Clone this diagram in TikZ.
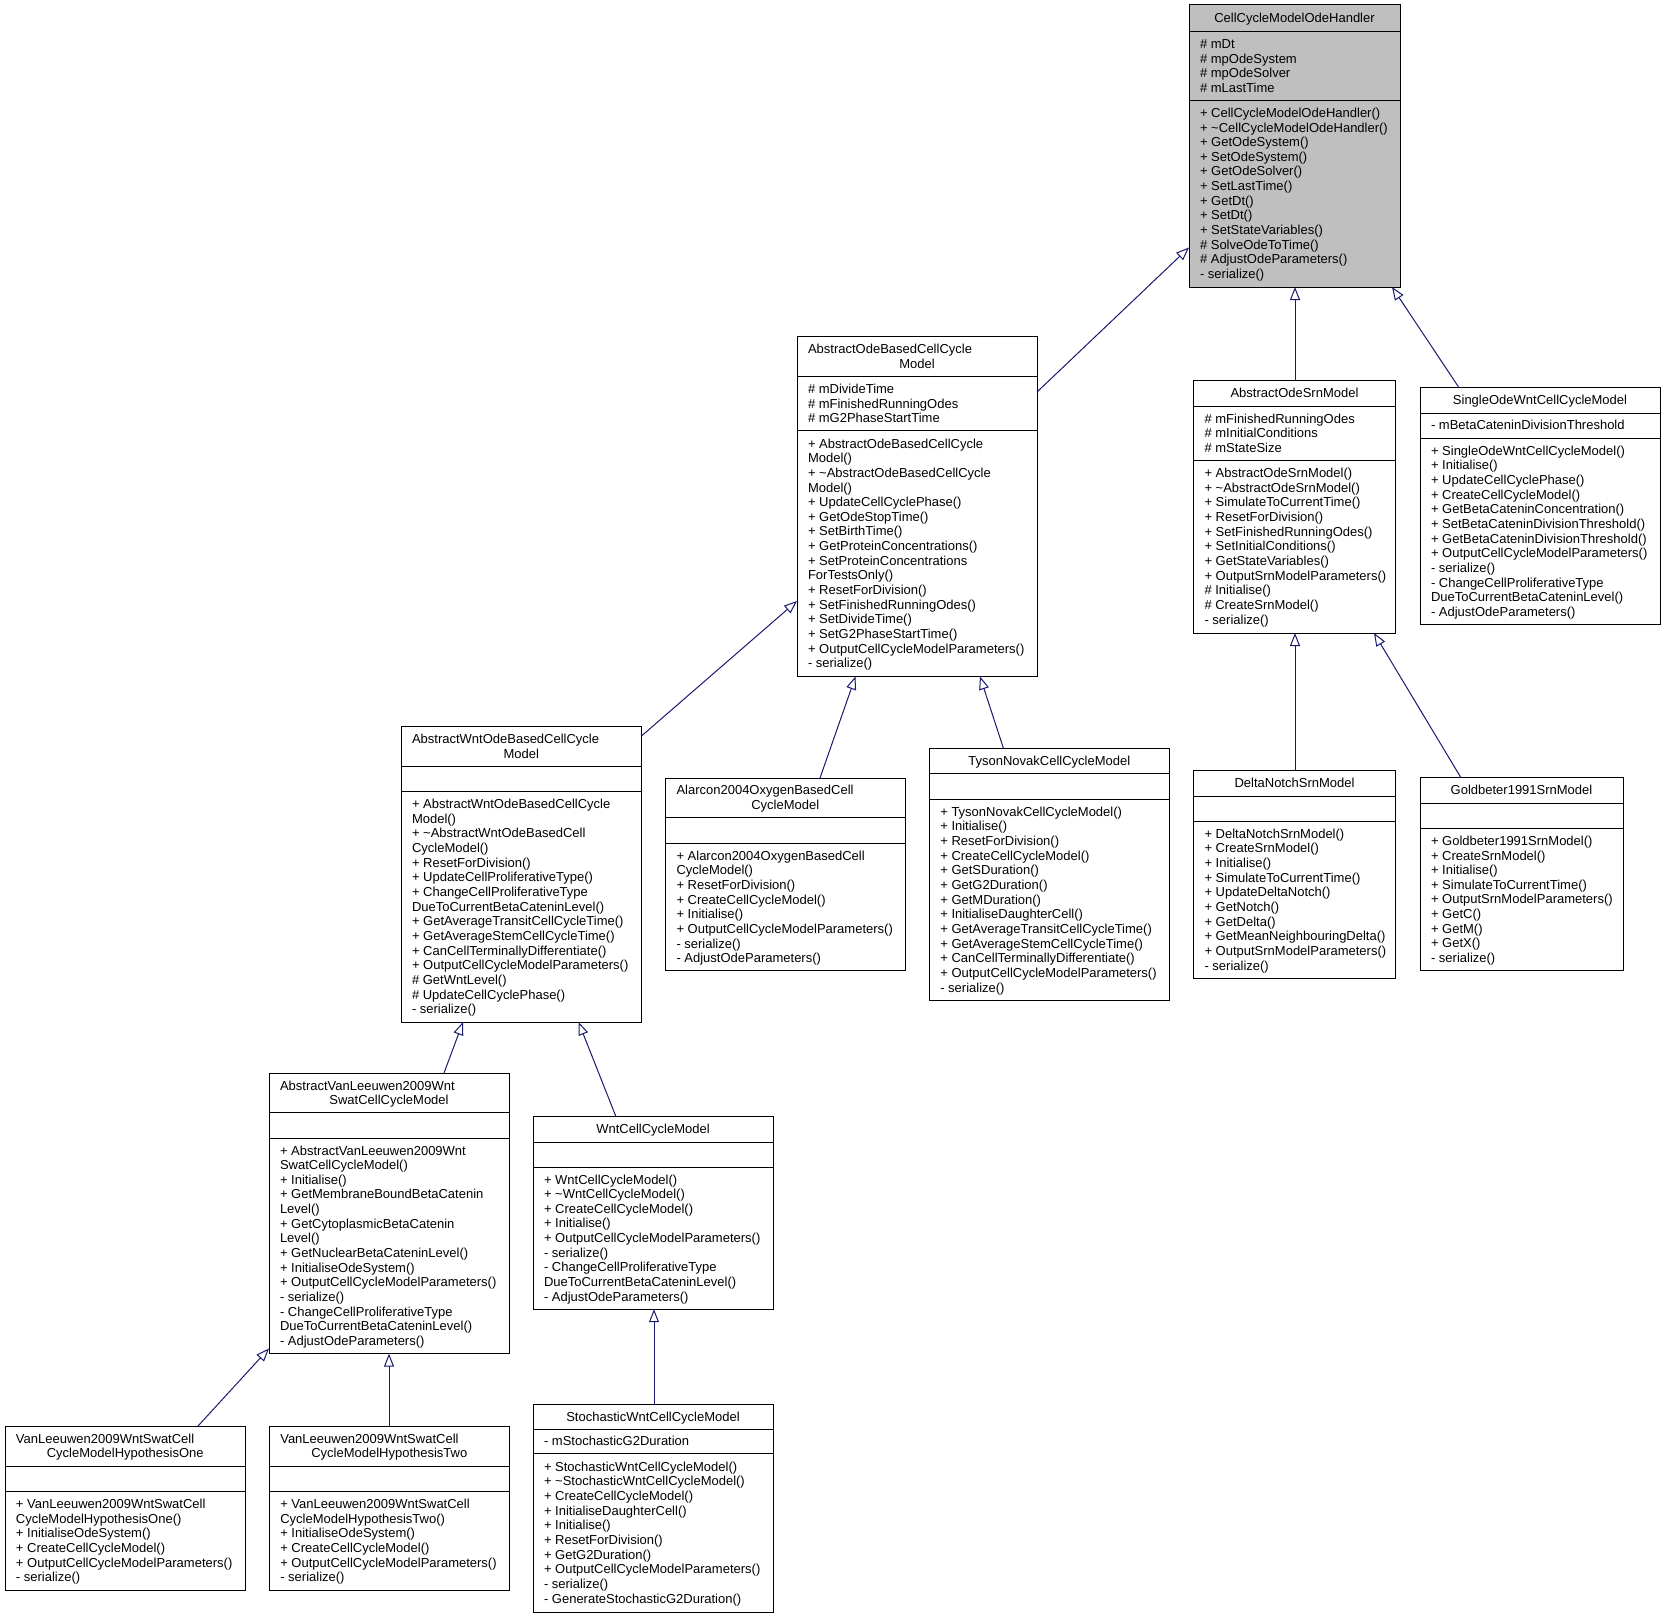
\documentclass[tikz,border=0pt]{standalone}
\usepackage{fontspec}
\setmainfont{Liberation Sans}
\usetikzlibrary{arrows.meta}
\definecolor{edgeblue}{HTML}{191970}
\definecolor{greyfill}{HTML}{BFBFBF}
\newcommand\linesL[1]{\begin{tabular}{@{}l@{}}#1\end{tabular}}
\newcommand\linesC[1]{\begin{tabular}{@{}c@{}}#1\end{tabular}}
\tikzset{
  cls/.style={draw=black, line width=1pt, inner sep=0pt, outer sep=0pt},
  sepline/.style={draw=black, line width=1pt},
  txt/.style={inner sep=0pt, outer sep=0pt, font=\fontsize{13pt}{14.65pt}\selectfont, yshift=-1.5pt},
  inh/.style={draw=edgeblue, line width=1pt, -{Triangle[open, length=13pt, width=10pt]}}
}
% #1 fill, #2 name, #3 left, #4 right, #5 top, #6 sep1, #7 sep2, #8 bottom
\newcommand\cbox[8][white]{%
  \node[cls, fill=#1, anchor=north west, minimum width={(#4)-(#3)}, minimum height={(#8)-(#5)}] (#2) at (#3,#5) {};
  \draw[sepline] (#2.west |- 0,#6) -- (#2.east |- 0,#6);
  \draw[sepline] (#2.west |- 0,#7) -- (#2.east |- 0,#7);
  \coordinate (#2-t) at ({(#3+#4)/2},{(#5+#6)/2});
  \coordinate (#2-t1) at ({#3+11},{(#5+#6)/2-7.325});
  \coordinate (#2-t2) at ({(#3+#4)/2},{(#5+#6)/2+7.325});
  \coordinate (#2-a) at ({#3+11},{(#6+#7)/2});
  \coordinate (#2-m) at ({#3+11},{(#7+#8)/2});
}
\begin{document}
\begin{tikzpicture}[x=1pt, y=-1pt]
\path[use as bounding box, fill=white] (0,0) rectangle (1665,1619);

% CellCycleModelOdeHandler
\cbox[greyfill]{CCH}{1189}{1400}{5}{32}{100}{287}
\node[txt] (CCH-title) at (CCH-t) {\linesC{CellCycleModelOdeHandler}};
\node[txt, anchor=west] (CCH-attr) at (CCH-a) {\linesL{\# mDt\\ \# mpOdeSystem\\ \# mpOdeSolver\\ \# mLastTime}};
\node[txt, anchor=west] (CCH-meth) at (CCH-m) {\linesL{+ CellCycleModelOdeHandler()\\ + \textasciitilde CellCycleModelOdeHandler()\\ + GetOdeSystem()\\ + SetOdeSystem()\\ + GetOdeSolver()\\ + SetLastTime()\\ + GetDt()\\ + SetDt()\\ + SetStateVariables()\\ \# SolveOdeToTime()\\ \# AdjustOdeParameters()\\ - serialize()}};

% AbstractOdeBasedCellCycleModel
\cbox{ABO}{797}{1037}{336.7}{376.7}{430.5}{676.5}
\node[txt, anchor=west] (ABO-title1) at (ABO-t1) {\linesL{AbstractOdeBasedCellCycle}};
\node[txt] (ABO-title2) at (ABO-t2) {\linesC{Model}};
\node[txt, anchor=west] (ABO-attr) at (ABO-a) {\linesL{\# mDivideTime\\ \# mFinishedRunningOdes\\ \# mG2PhaseStartTime}};
\node[txt, anchor=west] (ABO-meth) at (ABO-m) {\linesL{+ AbstractOdeBasedCellCycle\\ Model()\\ + \textasciitilde AbstractOdeBasedCellCycle\\ Model()\\ + UpdateCellCyclePhase()\\ + GetOdeStopTime()\\ + SetBirthTime()\\ + GetProteinConcentrations()\\ + SetProteinConcentrations\\ ForTestsOnly()\\ + ResetForDivision()\\ + SetFinishedRunningOdes()\\ + SetDivideTime()\\ + SetG2PhaseStartTime()\\ + OutputCellCycleModelParameters()\\ - serialize()}};

% AbstractOdeSrnModel
\cbox{AOS}{1193.5}{1395.5}{380}{406.5}{460}{633}
\node[txt] (AOS-title) at (AOS-t) {\linesC{AbstractOdeSrnModel}};
\node[txt, anchor=west] (AOS-attr) at (AOS-a) {\linesL{\# mFinishedRunningOdes\\ \# mInitialConditions\\ \# mStateSize}};
\node[txt, anchor=west] (AOS-meth) at (AOS-m) {\linesL{+ AbstractOdeSrnModel()\\ + \textasciitilde AbstractOdeSrnModel()\\ + SimulateToCurrentTime()\\ + ResetForDivision()\\ + SetFinishedRunningOdes()\\ + SetInitialConditions()\\ + GetStateVariables()\\ + OutputSrnModelParameters()\\ \# Initialise()\\ \# CreateSrnModel()\\ - serialize()}};

% SingleOdeWntCellCycleModel
\cbox{SOW}{1420}{1660}{387.7}{413}{438}{624.6}
\node[txt] (SOW-title) at (SOW-t) {\linesC{SingleOdeWntCellCycleModel}};
\node[txt, anchor=west] (SOW-attr) at (SOW-a) {\linesL{- mBetaCateninDivisionThreshold}};
\node[txt, anchor=west] (SOW-meth) at (SOW-m) {\linesL{+ SingleOdeWntCellCycleModel()\\ + Initialise()\\ + UpdateCellCyclePhase()\\ + CreateCellCycleModel()\\ + GetBetaCateninConcentration()\\ + SetBetaCateninDivisionThreshold()\\ + GetBetaCateninDivisionThreshold()\\ + OutputCellCycleModelParameters()\\ - serialize()\\ - ChangeCellProliferativeType\\ DueToCurrentBetaCateninLevel()\\ - AdjustOdeParameters()}};

% AbstractWntOdeBasedCellCycleModel
\cbox{AWO}{401}{641.5}{726.7}{766.7}{791.5}{1022}
\node[txt, anchor=west] (AWO-title1) at (AWO-t1) {\linesL{AbstractWntOdeBasedCellCycle}};
\node[txt] (AWO-title2) at (AWO-t2) {\linesC{Model}};
\node[txt, anchor=west] (AWO-meth) at (AWO-m) {\linesL{+ AbstractWntOdeBasedCellCycle\\ Model()\\ + \textasciitilde AbstractWntOdeBasedCell\\ CycleModel()\\ + ResetForDivision()\\ + UpdateCellProliferativeType()\\ + ChangeCellProliferativeType\\ DueToCurrentBetaCateninLevel()\\ + GetAverageTransitCellCycleTime()\\ + GetAverageStemCellCycleTime()\\ + CanCellTerminallyDifferentiate()\\ + OutputCellCycleModelParameters()\\ \# GetWntLevel()\\ \# UpdateCellCyclePhase()\\ - serialize()}};

% Alarcon2004OxygenBasedCellCycleModel
\cbox{ALA}{665.5}{905}{778}{817.7}{843.2}{970.7}
\node[txt, anchor=west] (ALA-title1) at (ALA-t1) {\linesL{Alarcon2004OxygenBasedCell}};
\node[txt] (ALA-title2) at (ALA-t2) {\linesC{CycleModel}};
\node[txt, anchor=west] (ALA-meth) at (ALA-m) {\linesL{+ Alarcon2004OxygenBasedCell\\ CycleModel()\\ + ResetForDivision()\\ + CreateCellCycleModel()\\ + Initialise()\\ + OutputCellCycleModelParameters()\\ - serialize()\\ - AdjustOdeParameters()}};

% TysonNovakCellCycleModel
\cbox{TNK}{929.3}{1169.3}{748.5}{773.8}{799.5}{1000}
\node[txt] (TNK-title) at (TNK-t) {\linesC{TysonNovakCellCycleModel}};
\node[txt, anchor=west] (TNK-meth) at (TNK-m) {\linesL{+ TysonNovakCellCycleModel()\\ + Initialise()\\ + ResetForDivision()\\ + CreateCellCycleModel()\\ + GetSDuration()\\ + GetG2Duration()\\ + GetMDuration()\\ + InitialiseDaughterCell()\\ + GetAverageTransitCellCycleTime()\\ + GetAverageStemCellCycleTime()\\ + CanCellTerminallyDifferentiate()\\ + OutputCellCycleModelParameters()\\ - serialize()}};

% DeltaNotchSrnModel
\cbox{DNS}{1193.5}{1395.5}{770}{796}{821.2}{978.2}
\node[txt] (DNS-title) at (DNS-t) {\linesC{DeltaNotchSrnModel}};
\node[txt, anchor=west] (DNS-meth) at (DNS-m) {\linesL{+ DeltaNotchSrnModel()\\ + CreateSrnModel()\\ + Initialise()\\ + SimulateToCurrentTime()\\ + UpdateDeltaNotch()\\ + GetNotch()\\ + GetDelta()\\ + GetMeanNeighbouringDelta()\\ + OutputSrnModelParameters()\\ - serialize()}};

% Goldbeter1991SrnModel
\cbox{GBS}{1420}{1623}{777.8}{803}{828.3}{970.8}
\node[txt] (GBS-title) at (GBS-t) {\linesC{Goldbeter1991SrnModel}};
\node[txt, anchor=west] (GBS-meth) at (GBS-m) {\linesL{+ Goldbeter1991SrnModel()\\ + CreateSrnModel()\\ + Initialise()\\ + SimulateToCurrentTime()\\ + OutputSrnModelParameters()\\ + GetC()\\ + GetM()\\ + GetX()\\ - serialize()}};

% AbstractVanLeeuwen2009WntSwatCellCycleModel
\cbox{AVL}{269}{509}{1073}{1112.8}{1138}{1353.6}
\node[txt, anchor=west] (AVL-title1) at (AVL-t1) {\linesL{AbstractVanLeeuwen2009Wnt}};
\node[txt] (AVL-title2) at (AVL-t2) {\linesC{SwatCellCycleModel}};
\node[txt, anchor=west] (AVL-meth) at (AVL-m) {\linesL{+ AbstractVanLeeuwen2009Wnt\\ SwatCellCycleModel()\\ + Initialise()\\ + GetMembraneBoundBetaCatenin\\ Level()\\ + GetCytoplasmicBetaCatenin\\ Level()\\ + GetNuclearBetaCateninLevel()\\ + InitialiseOdeSystem()\\ + OutputCellCycleModelParameters()\\ - serialize()\\ - ChangeCellProliferativeType\\ DueToCurrentBetaCateninLevel()\\ - AdjustOdeParameters()}};

% WntCellCycleModel
\cbox{WNT}{533}{773}{1116.7}{1142}{1167.2}{1309.2}
\node[txt] (WNT-title) at (WNT-t) {\linesC{WntCellCycleModel}};
\node[txt, anchor=west] (WNT-meth) at (WNT-m) {\linesL{+ WntCellCycleModel()\\ + \textasciitilde WntCellCycleModel()\\ + CreateCellCycleModel()\\ + Initialise()\\ + OutputCellCycleModelParameters()\\ - serialize()\\ - ChangeCellProliferativeType\\ DueToCurrentBetaCateninLevel()\\ - AdjustOdeParameters()}};

% VanLeeuwen2009WntSwatCellCycleModelHypothesisOne
\cbox{HP1}{5}{245.5}{1426}{1466}{1491.5}{1590.2}
\node[txt, anchor=west] (HP1-title1) at (HP1-t1) {\linesL{VanLeeuwen2009WntSwatCell}};
\node[txt] (HP1-title2) at (HP1-t2) {\linesC{CycleModelHypothesisOne}};
\node[txt, anchor=west] (HP1-meth) at (HP1-m) {\linesL{+ VanLeeuwen2009WntSwatCell\\ CycleModelHypothesisOne()\\ + InitialiseOdeSystem()\\ + CreateCellCycleModel()\\ + OutputCellCycleModelParameters()\\ - serialize()}};

% VanLeeuwen2009WntSwatCellCycleModelHypothesisTwo
\cbox{HP2}{269.3}{509.3}{1426}{1466}{1491.5}{1590.2}
\node[txt, anchor=west] (HP2-title1) at (HP2-t1) {\linesL{VanLeeuwen2009WntSwatCell}};
\node[txt] (HP2-title2) at (HP2-t2) {\linesC{CycleModelHypothesisTwo}};
\node[txt, anchor=west] (HP2-meth) at (HP2-m) {\linesL{+ VanLeeuwen2009WntSwatCell\\ CycleModelHypothesisTwo()\\ + InitialiseOdeSystem()\\ + CreateCellCycleModel()\\ + OutputCellCycleModelParameters()\\ - serialize()}};

% StochasticWntCellCycleModel
\cbox{STO}{533}{773}{1404.5}{1429.5}{1453.5}{1612}
\node[txt] (STO-title) at (STO-t) {\linesC{StochasticWntCellCycleModel}};
\node[txt, anchor=west] (STO-attr) at (STO-a) {\linesL{- mStochasticG2Duration}};
\node[txt, anchor=west] (STO-meth) at (STO-m) {\linesL{+ StochasticWntCellCycleModel()\\ + \textasciitilde StochasticWntCellCycleModel()\\ + CreateCellCycleModel()\\ + InitialiseDaughterCell()\\ + Initialise()\\ + ResetForDivision()\\ + GetG2Duration()\\ + OutputCellCycleModelParameters()\\ - serialize()\\ - GenerateStochasticG2Duration()}};

% inheritance connectors (child -> parent)
\draw[inh] (ABO.east |- 0,392) -- (CCH.west |- 0,247.5);
\draw[inh] (AOS.north -| 1295,0) -- (CCH.south -| 1295,0);
\draw[inh] (SOW.north -| 1459,0) -- (CCH.south -| 1392,0);
\draw[inh] (AWO.east |- 0,736) -- (ABO.west |- 0,601);
\draw[inh] (ALA.north -| 820,0) -- (ABO.south -| 855.5,0);
\draw[inh] (TNK.north -| 1003.5,0) -- (ABO.south -| 980,0);
\draw[inh] (DNS.north -| 1295,0) -- (AOS.south -| 1295,0);
\draw[inh] (GBS.north -| 1461,0) -- (AOS.south -| 1374,0);
\draw[inh] (AVL.north -| 444,0) -- (AWO.south -| 463,0);
\draw[inh] (WNT.north -| 616,0) -- (AWO.south -| 578.5,0);
\draw[inh] (HP1.north -| 198,0) -- (AVL.west |- 0,1348.5);
\draw[inh] (HP2.north -| 389,0) -- (AVL.south -| 389,0);
\draw[inh] (STO.north -| 654,0) -- (WNT.south -| 654,0);
\end{tikzpicture}
\end{document}
